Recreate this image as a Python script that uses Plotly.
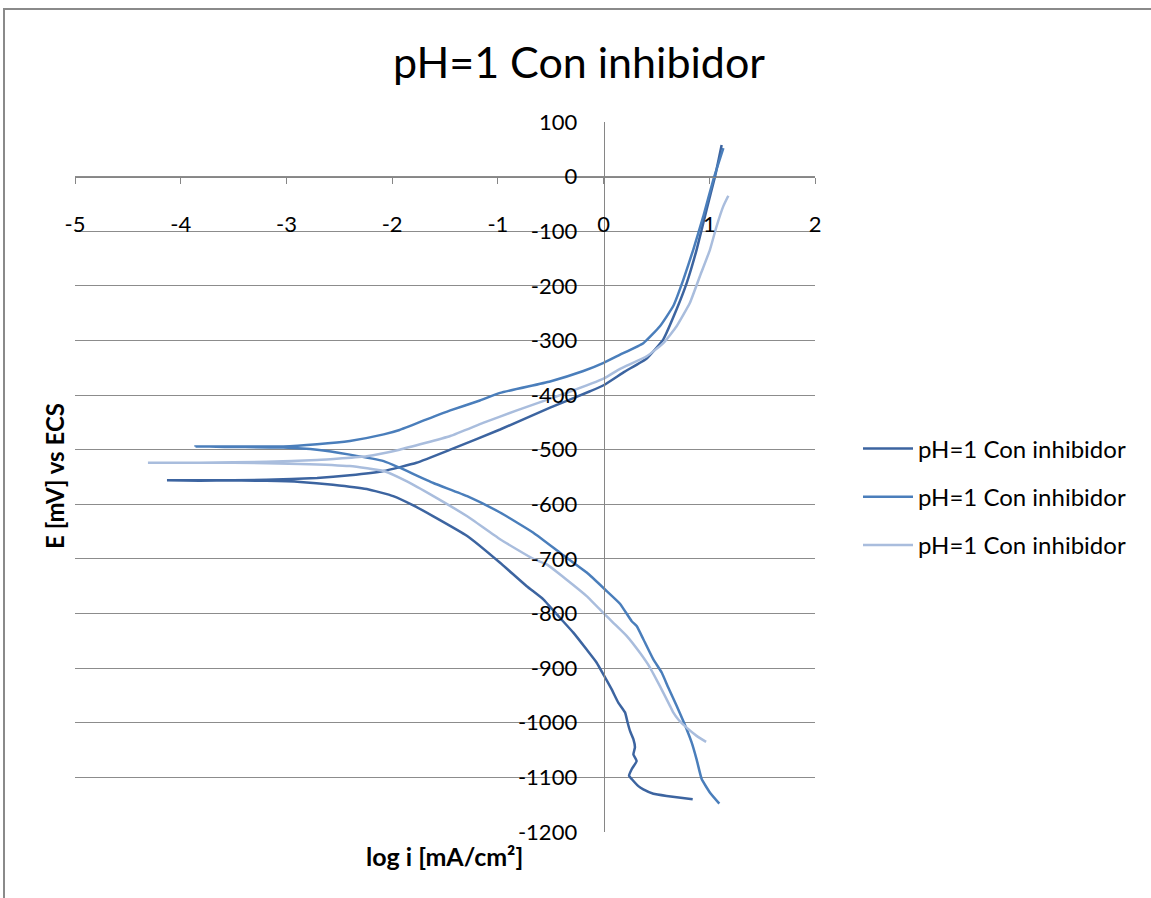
import plotly.graph_objects as go

# ---- data ----
x_range = [-5, 2]
y_range = [-1200, 100]
x_ticks = [-5, -4, -3, -2, -1, 0, 1, 2]
x_tick_text = ["-5", "-4", "-3", "-2", "-1", "0", "1", "2"]
y_ticks = [-1200, -1100, -1000, -900, -800, -700, -600, -500, -400, -300, -200, -100, 0, 100]
y_tick_text = ["-1200", "-1100", "-1000", "-900", "-800", "-700", "-600", "-500", "-400",
               "-300", "-200", "-100", "0", "100"]
series_names = ["pH=1 Con inhibidor", "pH=1 Con inhibidor", "pH=1 Con inhibidor"]
chart_title = "pH=1 Con inhibidor"
x_title = "log i [mA/cm²]"
y_title = "E [mV] vs ECS"

s1_x = [0.843, 0.597, 0.471, 0.376, 0.329, 0.266, 0.241, 0.266, 0.313, 0.282, 0.297, 0.282,
        0.250, 0.228, 0.203, 0.139, 0.077, 0.014, -0.065, -0.160, -0.286, -0.412, -0.570,
        -0.727, -0.979, -1.29, -1.61, -1.80, -1.99, -2.24, -2.56, -2.87, -3.19, -3.66, -4.13,
        -3.82, -3.19, -2.71, -2.40, -2.08, -1.77, -1.45, -0.979, -0.506, -0.128, 0.0, 0.20,
        0.408, 0.565, 0.691, 0.786, 0.880, 0.975, 1.054, 1.117]
s1_y = [-1140, -1134, -1130, -1122, -1116, -1103, -1097, -1085, -1070, -1058, -1045, -1030,
        -1015, -1000, -981, -963, -939, -917, -890, -866, -835, -808, -774,
        -750, -707, -658, -622, -602, -585, -572, -564, -559, -557, -556, -556,
        -557, -555, -552, -547, -539, -524, -500, -463, -423, -393, -382, -357,
        -333, -298, -243, -195, -134, -60, 0, 58]

s2_x = [1.095, 1.007, 0.928, 0.880, 0.833, 0.761, 0.691, 0.613, 0.550, 0.471, 0.376, 0.313,
        0.266, 0.155, 0.014, -0.159, -0.41, -0.664, -0.979, -1.29, -1.61, -1.93, -2.08,
        -2.40, -2.71, -3.03, -3.50, -3.86, -3.34, -3.03, -2.71, -2.40, -2.08, -1.93, -1.68,
        -1.45, -1.17, -0.979, -0.506, -0.191, 0.0, 0.156, 0.376, 0.533, 0.659, 0.754, 0.848,
        0.943, 1.038, 1.133]
s2_y = [-1148, -1128, -1103, -1067, -1036, -1000, -969, -936, -908, -884, -847, -823,
        -814, -782, -756, -725, -689, -652, -615, -585, -561, -533, -521,
        -509, -500, -496, -495, -494, -494, -494, -490, -484, -472, -464, -445,
        -428, -410, -396, -375, -356, -341, -326, -305, -274, -237, -189, -134,
        -73, -6, 52]

s3_x = [0.970, 0.880, 0.786, 0.707, 0.659, 0.628, 0.533, 0.439, 0.344, 0.218, 0.092, 0.014,
        -0.160, -0.349, -0.538, -0.664, -0.979, -1.29, -1.61, -1.86, -2.08, -2.40, -2.87,
        -3.50, -4.31, -3.82, -3.19, -2.71, -2.24, -1.93, -1.45, -1.14, -0.82, -0.35, 0.0,
        0.156, 0.408, 0.565, 0.691, 0.817, 0.912, 1.006, 1.069, 1.133, 1.180]
s3_y = [-1035, -1024, -1009, -994, -981, -969, -933, -899, -872, -841, -817, -802,
        -768, -738, -710, -700, -664, -622, -585, -558, -539, -530, -526,
        -524, -524, -524, -522, -519, -512, -500, -475, -451, -428, -396, -370,
        -352, -329, -305, -274, -231, -182, -134, -91, -54, -35]

colors = ["#3C64A0", "#4A7EBB", "#A9BDDD"]
font_family = "Lato, 'Open Sans', sans-serif"

fig = go.Figure()
for i, (xs, ys) in enumerate([(s1_x, s1_y), (s2_x, s2_y), (s3_x, s3_y)]):
    fig.add_trace(go.Scatter(
        x=xs, y=ys, mode="lines", name=series_names[i],
        legendgroup=f"g{i}",
        line=dict(color=colors[i], width=2.5, shape="spline", smoothing=0.4),
    ))

# positions of crossing axes computed from ranges
x_axis_pos = (0 - y_range[0]) / (y_range[1] - y_range[0])
y_axis_pos = (0 - x_range[0]) / (x_range[1] - x_range[0])

fig.update_layout(
    width=1151, height=898,
    margin=dict(l=75, r=336, t=122, b=66, autoexpand=False),
    paper_bgcolor="white", plot_bgcolor="white",
    font=dict(family=font_family, color="#000000", size=20),
    title=dict(text=chart_title, x=0.503, xref="container", xanchor="center",
               y=1 - 63 / 898, yref="container", yanchor="middle",
               font=dict(size=43, family=font_family, color="#000")),
    xaxis=dict(range=x_range, tickvals=x_ticks, ticktext=x_tick_text,
               anchor="free", position=x_axis_pos,
               showgrid=False, zeroline=False, showline=True, linecolor="#868686",
               linewidth=1, ticks="outside", ticklen=6, tickcolor="#868686",
               ticklabelstandoff=22, tickfont=dict(size=22, family=font_family)),
    yaxis=dict(range=y_range, tickvals=y_ticks, ticktext=y_tick_text,
               anchor="free", position=y_axis_pos,
               showgrid=True, gridcolor="#8C8C8C", gridwidth=1, zeroline=False,
               showline=True, linecolor="#868686", linewidth=1, ticks="",
               ticklabelstandoff=22, tickfont=dict(size=22, family=font_family)),
    legend=dict(x=(858 - 75) / 740, xanchor="left", y=(832 - 497) / 710, yanchor="middle",
                font=dict(size=24, family=font_family), tracegroupgap=14,
                bgcolor="rgba(0,0,0,0)", itemwidth=50),
    showlegend=True,
)

fig.add_annotation(text=f"<b>{x_title}</b>", xref="paper", yref="paper",
                   x=(444 - 75) / 740, y=(832 - 856) / 710, xanchor="center", yanchor="middle",
                   showarrow=False, font=dict(size=25, family=font_family))
fig.add_annotation(text=f"<b>{y_title}</b>", xref="paper", yref="paper",
                   x=(54 - 75) / 740, y=(832 - 476) / 710, xanchor="center", yanchor="middle",
                   textangle=-90, showarrow=False, font=dict(size=24, family=font_family))

# chart frame
fig.add_shape(type="rect", xref="paper", yref="paper",
              x0=(4 - 75) / 740, x1=(1170 - 75) / 740,
              y0=(832 - 920) / 710, y1=1 + (122 - 9) / 710,
              line=dict(color="#8A8A8A", width=2), fillcolor="rgba(0,0,0,0)", layer="below")

fig.write_html("out.html")
